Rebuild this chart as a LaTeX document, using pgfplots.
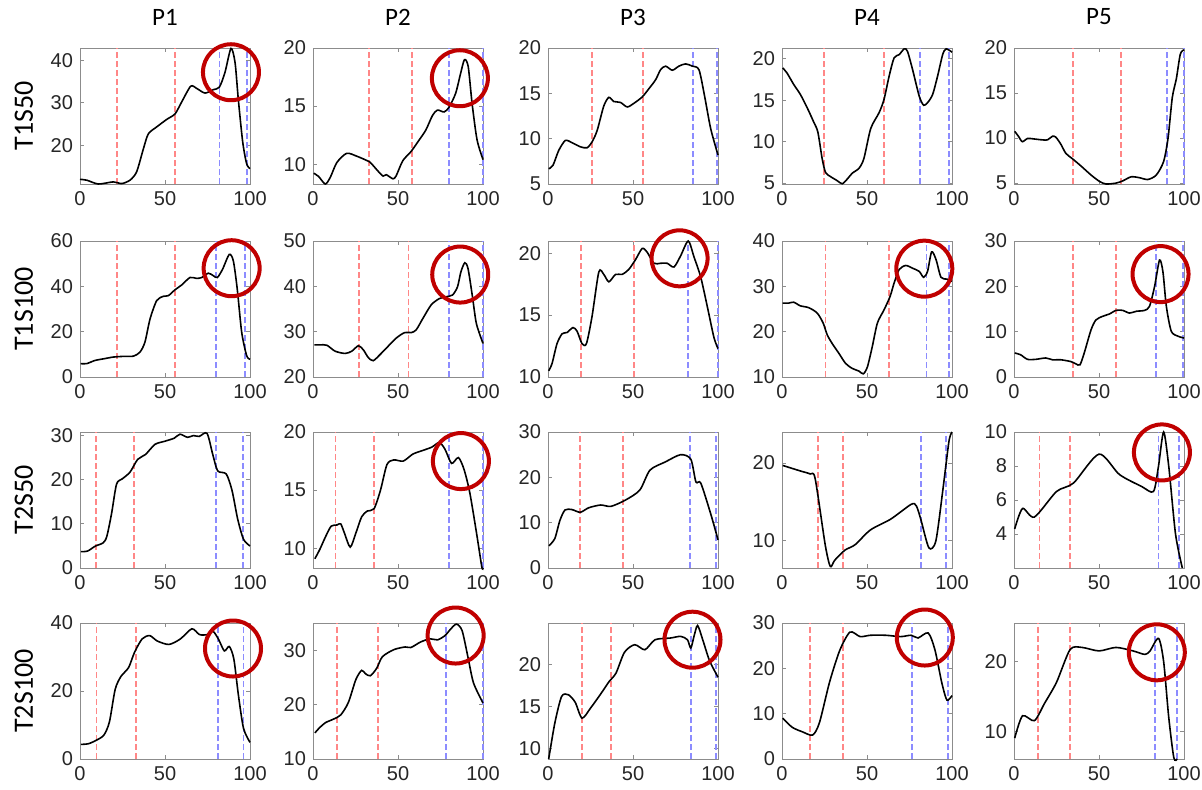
\documentclass[border=0pt]{standalone}
\usepackage{pgfplots}
\pgfplotsset{compat=1.18}
\usepackage{fontspec}
\setmainfont{Liberation Sans}
\newfontfamily\calib{Carlito}
\definecolor{rl}{RGB}{255,135,135}
\definecolor{bl}{RGB}{140,140,255}
\definecolor{cr}{RGB}{192,0,0}
\pgfplotsset{
  panel/.style={scale only axis, width=85pt, height=68pt, xmin=0, xmax=100, xtick={0,50,100},
    anchor=north west, clip=false, tick align=inside, major tick length=2pt,
    axis line style={draw=black!45, line width=0.5pt}, tick style={draw=black!45, line width=0.4pt},
    ticklabel style={font=\fontsize{10}{10}\selectfont, text=black!85},
    /pgf/number format/assume math mode=true,
    every axis title/.style={at={(rel axis cs:0.5,1)}, yshift=15.5pt, anchor=center, font=\calib\fontsize{12.5}{12.5}\selectfont},
    every axis y label/.style={at={(rel axis cs:0,0.5)}, xshift=-28pt, rotate=90, anchor=center, font=\calib\fontsize{14}{14}\selectfont},
  },
  cur/.style={black, line width=0.8pt, smooth, tension=0.45},
  rv/.style={draw=rl, dash pattern=on 3pt off 1.5pt, line width=0.9pt},
  bv/.style={draw=bl, dash pattern=on 3pt off 1.5pt, line width=0.9pt},
  circ/.style={only marks, mark=o, mark size=14pt, mark options={draw=cr, line width=2pt}},
}
\begin{document}
\begin{tikzpicture}
\useasboundingbox (0,0) rectangle (601pt,-394.5pt);
% ---------------- Row 1 ----------------
\begin{axis}[panel, at={(40pt,-24pt)}, ymin=10.9, ymax=42.9, ytick={20,30,40}, title={P1}, ylabel={T1S50}]
\addplot[rv] coordinates {(21.6,10.9) (21.6,42.9)};
\addplot[rv] coordinates {(55.9,10.9) (55.9,42.9)};
\addplot[bv] coordinates {(82,10.9) (82,42.9)};
\addplot[bv] coordinates {(98,10.9) (98,42.9)};
\addplot[cur] coordinates {(0,12.0)(4,11.8)(10.8,10.9)(19.6,11.4)(24.5,11.0)(29.4,11.8)(33.3,13.75)(37.3,19.2)(40.2,22.7)(45,24.3)(51,26.1)(55.9,27.4)(59.8,30.2)(65.1,33.9)(68.6,33.4)(73.5,32.3)(78.4,33.1)(82,33.7)(85.3,37.2)(88.8,42.8)(91.2,39.5)(93.1,30.9)(95.7,20.8)(98,15.7)(100,14.5)};
\addplot[circ] coordinates {(88.8,37.2)};
\end{axis}
\begin{axis}[panel, at={(156.5pt,-24pt)}, ymin=8.3, ymax=20, ytick={10,15,20}, title={P2}]
\addplot[rv] coordinates {(33,8.3) (33,20)};
\addplot[rv] coordinates {(58,8.3) (58,20)};
\addplot[bv] coordinates {(80,8.3) (80,20)};
\addplot[bv] coordinates {(99.8,8.3) (99.8,20)};
\addplot[cur] coordinates {(0.4,9.23)(3.3,8.95)(7.2,8.3)(10.1,8.85)(14,10.14)(19.8,10.94)(25.6,10.7)(30.5,10.4)(33.4,10.2)(38.3,9.4)(41.2,8.98)(43.1,9.1)(47,8.75)(48.9,9)(52.8,10.3)(57.7,11.1)(62.5,12.1)(66.4,12.95)(70.3,14.2)(73.2,14.66)(77.1,14.5)(80,14.9)(83.9,16.1)(86.8,17.8)(89.1,19.0)(91.3,18.4)(93.6,15.2)(96.5,12.1)(100,10.4)};
\addplot[circ] coordinates {(86.4,17.4)};
\end{axis}
\begin{axis}[panel, at={(274pt,-24pt)}, ymin=5, ymax=20, ytick={5,10,15,20}, title={P3}]
\addplot[rv] coordinates {(25.9,5) (25.9,20)};
\addplot[rv] coordinates {(56,5) (56,20)};
\addplot[bv] coordinates {(85.3,5) (85.3,20)};
\addplot[bv] coordinates {(99.6,5) (99.6,20)};
\addplot[cur] coordinates {(0.4,6.68)(2.9,7.05)(6.3,8.7)(10.2,9.8)(14.1,9.56)(19.1,9.1)(23,9.0)(25.9,9.64)(28.9,10.9)(32.8,13.6)(35.8,14.56)(38.7,14.1)(42.6,14.0)(46.6,13.5)(50.5,13.9)(55.4,14.6)(59.3,15.5)(63.3,16.5)(66.2,17.6)(69.2,18.0)(73.1,17.55)(77,18.0)(80.9,18.25)(84.9,18.0)(88.8,17.6)(92.1,14.7)(95.7,11.1)(100,8.2)};
\end{axis}
\begin{axis}[panel, at={(391pt,-24pt)}, ymin=4.9, ymax=21.3, ytick={5,10,15,20}, title={P4}]
\addplot[rv] coordinates {(24.6,4.9) (24.6,21.3)};
\addplot[rv] coordinates {(60,4.9) (60,21.3)};
\addplot[bv] coordinates {(81.1,4.9) (81.1,21.3)};
\addplot[bv] coordinates {(98.4,4.9) (98.4,21.3)};
\addplot[cur] coordinates {(0.4,18.9)(2.9,18.3)(6.9,16.9)(10.8,15.7)(14.8,14.1)(18.7,12.35)(21.1,11.15)(23.6,7.98)(25.6,6.3)(28.5,5.8)(32.5,5.3)(35.4,4.93)(38.4,5.5)(41.3,6.2)(45.3,6.8)(48.2,8)(52.2,11.6)(57.1,13.5)(60,15.1)(63,17.9)(65.9,20.1)(68.9,20.5)(71.9,21.2)(73.8,20.9)(76.8,18.7)(80.7,15.5)(83.3,14.4)(85.6,14.7)(88.6,15.7)(91.5,17.9)(94.5,20.5)(96.5,21.2)(100,20.8)};
\end{axis}
\begin{axis}[panel, at={(507pt,-24pt)}, ymin=4.9, ymax=20, ytick={5,10,15,20}, title={P5}]
\addplot[rv] coordinates {(34.8,4.9) (34.8,20)};
\addplot[rv] coordinates {(63,4.9) (63,20)};
\addplot[bv] coordinates {(90.2,4.9) (90.2,20)};
\addplot[bv] coordinates {(99.8,4.9) (99.8,20)};
\addplot[cur] coordinates {(0.4,10.75)(2.6,10.2)(4.9,9.6)(7.9,9.96)(11.8,9.9)(16.7,9.8)(19.7,9.8)(22.6,10.2)(24.6,10.1)(27.6,9.3)(30.5,8.3)(34.4,7.7)(39.4,6.9)(45.3,5.9)(50.2,5.2)(54.1,4.9)(60,5.0)(64,5.25)(68.9,5.7)(73.8,5.6)(78.7,5.4)(83.7,5.9)(88,7.4)(90.6,10)(93.1,14.5)(95.5,16.6)(97.8,19.3)(100,19.8)};
\end{axis}
% ---------------- Row 2 ----------------
\begin{axis}[panel, at={(40pt,-120.5pt)}, ymin=0, ymax=60, ytick={0,20,40,60}, ylabel={T1S100}]
\addplot[rv] coordinates {(21.6,0) (21.6,60)};
\addplot[rv] coordinates {(55.9,0) (55.9,60)};
\addplot[bv] coordinates {(79.8,0) (79.8,60)};
\addplot[bv] coordinates {(97,0) (97,60)};
\addplot[cur] coordinates {(0.4,5.9)(3.9,5.9)(8.8,7.3)(13.7,8.0)(19.6,8.8)(25.5,9.1)(31.4,9.2)(35.3,11)(38.2,15.4)(41.2,25.6)(45.1,33.7)(49,35.6)(52,35.9)(55.9,38.5)(59.8,40.6)(64.7,43.9)(68.6,43.5)(71.6,43.9)(75.5,45.8)(78.4,44.7)(80.8,43.9)(83.9,47.6)(87.8,54.1)(90.2,51.2)(92.5,38.8)(95.1,19.8)(98,9.5)(100,7.8)};
\addplot[circ] coordinates {(89.2,48)};
\end{axis}
\begin{axis}[panel, at={(156.5pt,-120.5pt)}, ymin=20, ymax=50, ytick={20,30,40,50}]
\addplot[rv] coordinates {(27,20) (27,50)};
\addplot[rv] coordinates {(56.2,20) (56.2,50)};
\addplot[bv] coordinates {(80.2,20) (80.2,50)};
\addplot[bv] coordinates {(100,20) (100,50)};
\addplot[cur] coordinates {(0.8,27.1)(4.3,27.1)(8.2,27)(13,25.7)(18.9,25.2)(22.8,25.7)(26.7,26.9)(29.6,26)(32.5,24.3)(35.4,23.6)(39.3,24.9)(43.2,26.4)(49,28.6)(53.9,29.8)(57.8,29.8)(60.7,30.4)(64.6,32.9)(69.5,35.9)(74.3,37.3)(78.2,37.7)(82.1,38.1)(85,39.9)(87,43.2)(89.3,45.2)(91.2,43.9)(93.8,37.7)(96.1,31.8)(100,27.4)};
\addplot[circ] coordinates {(86.6,42.6)};
\end{axis}
\begin{axis}[panel, at={(274pt,-120.5pt)}, ymin=10, ymax=21, ytick={10,15,20}]
\addplot[rv] coordinates {(19.6,10) (19.6,21)};
\addplot[rv] coordinates {(50.5,10) (50.5,21)};
\addplot[bv] coordinates {(82.3,10) (82.3,21)};
\addplot[bv] coordinates {(100,10) (100,21)};
\addplot[cur] coordinates {(0.4,10.5)(2.4,11.1)(5.3,12.7)(8.3,13.5)(11.2,13.6)(14.7,14.0)(17.1,13.7)(20,12.7)(22.6,12.7)(25.9,14.9)(29.9,18.5)(32.8,18.3)(35.8,17.7)(39.7,18.3)(43.6,18.3)(47.5,18.7)(51.5,19.5)(55.4,20.4)(58.3,20.1)(62.3,19.2)(66.2,19.2)(70.1,19.2)(74.1,18.9)(78,19.8)(82.5,21.0)(85.9,19.7)(89.8,18.1)(93.7,15.7)(97.6,13.2)(100,12.3)};
\addplot[circ] coordinates {(77.4,19.6)};
\end{axis}
\begin{axis}[panel, at={(391pt,-120.5pt)}, ymin=10, ymax=40, ytick={10,20,30,40}]
\addplot[rv] coordinates {(25.6,10) (25.6,40)};
\addplot[rv] coordinates {(62.8,10) (62.8,40)};
\addplot[bv] coordinates {(85,10) (85,40)};
\addplot[bv] coordinates {(98.4,10) (98.4,40)};
\addplot[cur] coordinates {(0.4,26.3)(3.9,26.3)(6.9,26.5)(10.8,25.7)(15.7,25.3)(20.7,24.1)(24.2,21.9)(26.6,19.3)(29.5,17.4)(33.5,15.2)(37.4,13)(41.3,11.9)(45.3,11.3)(47.8,10.7)(50.2,12.2)(53.1,16.7)(56.1,21.9)(60,24.8)(63.6,27.8)(65.9,30.7)(68.9,33.7)(72.8,34.6)(76.8,34)(80.7,33.3)(83.3,32)(85.6,33.3)(88,37.6)(90.6,35.9)(93.5,32)(97,31.6)(100,31.1)};
\addplot[circ] coordinates {(83.7,33.9)};
\end{axis}
\begin{axis}[panel, at={(507pt,-120.5pt)}, ymin=0, ymax=30, ytick={0,10,20,30}]
\addplot[rv] coordinates {(34.8,0) (34.8,30)};
\addplot[rv] coordinates {(60,0) (60,30)};
\addplot[bv] coordinates {(83.3,0) (83.3,30)};
\addplot[bv] coordinates {(99.4,0) (99.4,30)};
\addplot[cur] coordinates {(0.4,5.3)(3.9,4.9)(7.9,3.9)(12.8,3.9)(18.7,4.2)(22.6,3.8)(27.6,3.8)(33.5,3.4)(36.4,2.9)(38.8,2.7)(41.3,5.3)(45.3,10.4)(48.2,12.6)(52.2,13.4)(56.1,13.9)(60,14.7)(64,14.7)(67.9,14.1)(71.9,14.5)(76.8,14.7)(79.7,15.6)(82.7,20)(85.6,25.8)(87.6,23.2)(89.6,15.6)(92.5,10.1)(96.5,9)(100,8.6)};
\addplot[circ] coordinates {(86.2,22.7)};
\end{axis}
% ---------------- Row 3 ----------------
\begin{axis}[panel, at={(40pt,-216pt)}, ymin=0, ymax=30.8, ytick={0,10,20,30}, ylabel={T2S50}]
\addplot[rv] coordinates {(9.5,0) (9.5,30.8)};
\addplot[rv] coordinates {(31.7,0) (31.7,30.8)};
\addplot[bv] coordinates {(79.9,0) (79.9,30.8)};
\addplot[bv] coordinates {(95.7,0) (95.7,30.8)};
\addplot[cur] coordinates {(0.5,3.7)(4.5,3.85)(9,4.96)(13.6,5.7)(15.8,7.2)(18.6,12.4)(21.5,19.0)(24.9,20.2)(29.4,21.7)(33.9,24.6)(38.5,25.7)(44.1,28)(49.8,28.7)(55.4,29.4)(58.8,30.3)(63.3,29.6)(66.7,30)(70.1,29.8)(74.7,30.5)(78.1,25.7)(81,22)(86,21.3)(89.4,17.6)(92.8,11)(96.2,6.5)(100,5.0)};
\end{axis}
\begin{axis}[panel, at={(156.5pt,-216pt)}, ymin=8.3, ymax=20, ytick={10,15,20}]
\addplot[rv] coordinates {(13.2,8.3) (13.2,20)};
\addplot[rv] coordinates {(35.9,8.3) (35.9,20)};
\addplot[bv] coordinates {(79.9,8.3) (79.9,20)};
\addplot[bv] coordinates {(100,8.3) (100,20)};
\addplot[cur] coordinates {(1.1,9.1)(4,9.9)(7.4,11.0)(10.7,11.9)(14.1,12.0)(16.3,12.1)(18.5,11.3)(21.9,10.1)(25.2,11.3)(28.6,12.7)(31.9,13.2)(35.9,13.4)(39.7,15.0)(43.5,17.2)(47.5,17.6)(53.1,17.5)(58.7,18.1)(64.3,18.4)(69.9,18.7)(74.3,19.1)(77.7,18.5)(81.5,17.3)(85.5,17.8)(88.8,16.8)(92.2,14.8)(96.2,11.3)(99.3,8.4)(100,8.3)};
\addplot[circ] coordinates {(87,17.5)};
\end{axis}
\begin{axis}[panel, at={(274pt,-216pt)}, ymin=0, ymax=30, ytick={0,10,20,30}]
\addplot[rv] coordinates {(19,0) (19,30)};
\addplot[rv] coordinates {(44,0) (44,30)};
\addplot[bv] coordinates {(83.4,0) (83.4,30)};
\addplot[bv] coordinates {(98.8,0) (98.8,30)};
\addplot[cur] coordinates {(0.5,4.9)(4,6.5)(7,10.5)(10,12.8)(14,12.9)(19,12.3)(24,13.3)(31,13.9)(37,13.6)(45.6,15)(54,17.2)(60,21.6)(69,23.4)(78,25)(84,24)(87,19)(89.9,18.7)(95.9,11.7)(100,6.2)};
\end{axis}
\begin{axis}[panel, at={(391pt,-216pt)}, ymin=6.5, ymax=24, ytick={10,20}]
\addplot[rv] coordinates {(21.3,6.5) (21.3,24)};
\addplot[rv] coordinates {(36,6.5) (36,24)};
\addplot[bv] coordinates {(81.6,6.5) (81.6,24)};
\addplot[bv] coordinates {(96.4,6.5) (96.4,24)};
\addplot[cur] coordinates {(0.4,19.7)(10.6,19.0)(16.6,18.6)(19.5,18)(25.4,9.5)(28.4,6.7)(31,7.5)(37,8.8)(43,9.5)(52,11.4)(64,12.8)(76,14.7)(79,14.5)(81.6,12.8)(86.4,9.1)(90.5,10)(94.7,16.7)(98.2,22.8)(100,24)};
\end{axis}
\begin{axis}[panel, at={(507pt,-216pt)}, ymin=2, ymax=10, ytick={4,6,8,10}]
\addplot[rv] coordinates {(15,2) (15,10)};
\addplot[rv] coordinates {(33,2) (33,10)};
\addplot[bv] coordinates {(85,2) (85,10)};
\addplot[bv] coordinates {(97,2) (97,10)};
\addplot[cur] coordinates {(0.4,4.3)(5,5.5)(12,5.0)(25,6.5)(35,7)(50,8.7)(62,7.5)(75,6.8)(82,6.5)(85,8)(88,10)(91,8)(95,4)(99,2)};
\addplot[circ] coordinates {(87,8.8)};
\end{axis}
% ---------------- Row 4 ----------------
\begin{axis}[panel, at={(40pt,-311.5pt)}, ymin=0, ymax=40, ytick={0,20,40}, ylabel={T2S100}]
\addplot[rv] coordinates {(9.7,0) (9.7,40)};
\addplot[rv] coordinates {(33.1,0) (33.1,40)};
\addplot[bv] coordinates {(81.1,0) (81.1,40)};
\addplot[bv] coordinates {(96.2,0) (96.2,40)};
\addplot[cur] coordinates {(0.5,4.3)(5,4.5)(9.5,5.5)(14,7)(17.3,10.9)(20.7,20.5)(24.1,24.3)(28.6,26.9)(32,31.3)(36.5,35.3)(41,36.3)(45.5,34.7)(52.3,33.7)(59,35.3)(65.8,38.3)(70.3,36.6)(74.8,36.6)(78.2,37.6)(81.5,35.2)(84.9,31.8)(87.8,33.1)(90.5,29.4)(93.2,18.7)(96.2,9)(100,4.9)};
\addplot[circ] coordinates {(90,32.5)};
\end{axis}
\begin{axis}[panel, at={(156.5pt,-311.5pt)}, ymin=10, ymax=35, ytick={10,20,30}]
\addplot[rv] coordinates {(14.1,10) (14.1,35)};
\addplot[rv] coordinates {(38.2,10) (38.2,35)};
\addplot[bv] coordinates {(78.1,10) (78.1,35)};
\addplot[bv] coordinates {(100,10) (100,35)};
\addplot[cur] coordinates {(1.1,14.8)(4,15.8)(7.4,16.7)(11.8,17.3)(16.3,18.1)(20.8,20.4)(25.2,24.6)(28.6,26.3)(30.8,25.7)(33.7,25.3)(37.5,26.7)(40.8,28.8)(47.5,30.1)(54.2,30.6)(57.6,30.5)(63.2,31.5)(68.8,32.1)(73.2,31.9)(77.7,32.7)(81,33.9)(84.4,34.8)(87.7,33.6)(91.1,28.8)(94.4,24)(100,20.3)};
\addplot[circ] coordinates {(83.9,32.7)};
\end{axis}
\begin{axis}[panel, at={(274pt,-311.5pt)}, ymin=8.7, ymax=25, ytick={10,15,20}]
\addplot[rv] coordinates {(20,8.7) (20,25)};
\addplot[rv] coordinates {(37,8.7) (37,25)};
\addplot[bv] coordinates {(84,8.7) (84,25)};
\addplot[bv] coordinates {(99,8.7) (99,25)};
\addplot[cur] coordinates {(0.4,8.7)(4,13)(8,16.2)(12,16.4)(16,15.5)(20,13.6)(25,14.8)(31,16.5)(36,18)(40,19)(45,21.5)(51,22.4)(57,21.8)(63,23)(72,23.2)(78,23.4)(82,23)(84,22)(86,23.5)(88,24.7)(91,23)(95,20.5)(100,18.5)};
\addplot[circ] coordinates {(85,23)};
\end{axis}
\begin{axis}[panel, at={(391pt,-311.5pt)}, ymin=0, ymax=30, ytick={0,10,20,30}]
\addplot[rv] coordinates {(16.5,0) (16.5,30)};
\addplot[rv] coordinates {(36,0) (36,30)};
\addplot[bv] coordinates {(76.5,0) (76.5,30)};
\addplot[bv] coordinates {(97.6,0) (97.6,30)};
\addplot[cur] coordinates {(0.4,9)(6,7)(12,6)(18,5.3)(22,8)(28,17)(34,24)(40,28)(46,27)(52,27.3)(61,27.3)(69.8,27)(76,27.3)(80,26.7)(86,27.8)(90,24)(94,16.8)(97,13)(100,14)};
\addplot[circ] coordinates {(84,26.8)};
\end{axis}
\begin{axis}[panel, at={(507pt,-311.5pt)}, ymin=6, ymax=25.5, ytick={10,20}]
\addplot[rv] coordinates {(14,6) (14,25.5)};
\addplot[rv] coordinates {(33,6) (33,25.5)};
\addplot[bv] coordinates {(83,6) (83,25.5)};
\addplot[bv] coordinates {(96,6) (96,25.5)};
\addplot[cur] coordinates {(0.4,9)(5,12.2)(12,11.5)(18,14)(25,17)(33,21.7)(40,22)(50,21.5)(60,22)(70,21.5)(77,21)(80,21.5)(85,23.3)(88,20)(91,12)(94,6.2)(96,6)};
\addplot[circ] coordinates {(84,21.3)};
\end{axis}
\end{tikzpicture}
\end{document}
